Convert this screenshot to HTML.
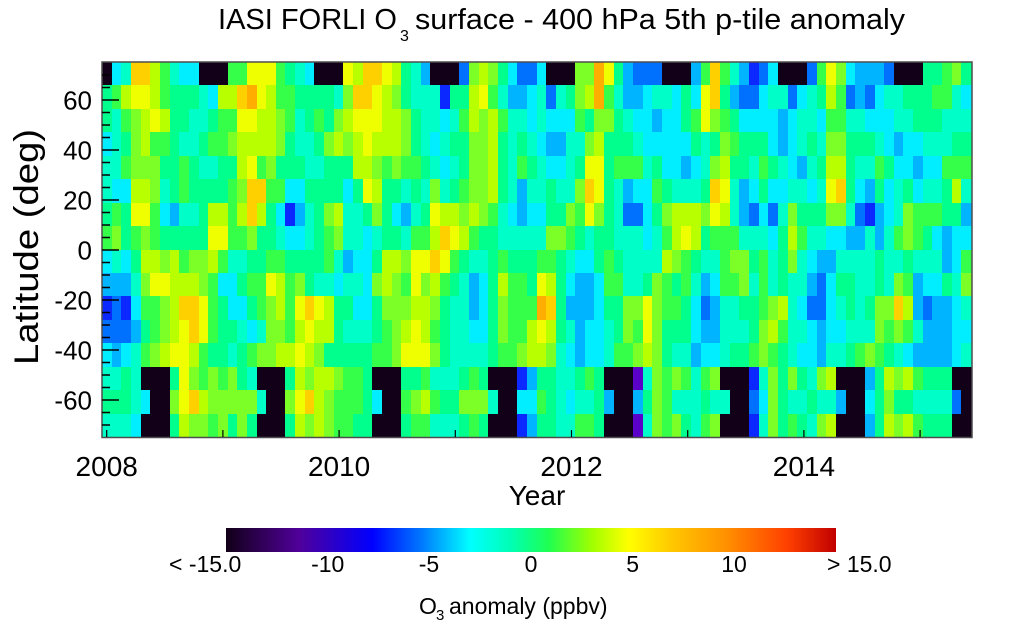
<!DOCTYPE html>
<html><head><meta charset="utf-8"><style>
html,body{margin:0;padding:0;background:#fff;}
body{width:1024px;height:626px;position:relative;overflow:hidden;font-family:"Liberation Sans",sans-serif;}
table{position:absolute;left:102px;top:62px;width:870px;height:375px;border-collapse:collapse;table-layout:fixed;border-spacing:0;}
td{padding:0;border:0;}
tr{height:23.4375px;}
.K{background:#120018}.P{background:#5a00c8}.D{background:#0a28ff}.b{background:#0070ff}
.B{background:#00b4ff}.c{background:#00eeff}.t{background:#00ffc8}.s{background:#00ff8c}
.g{background:#36ff4a}.G{background:#7cff26}.l{background:#b8ff00}.y{background:#f0ff00}
.Y{background:#ffd000}.o{background:#ffae00}
#cb{position:absolute;left:226px;top:528px;width:610px;height:24px;background:linear-gradient(to right,#120018 0%,#50009a 12%,#0000ff 24%,#0078ff 32%,#00ffff 40%,#00ffb0 47%,#20ff50 53%,#a0ff00 60%,#ffff00 66%,#ffc800 73%,#ff9000 82%,#ff4000 92%,#c00000 100%);}
svg{position:absolute;left:0;top:0;}
</style></head><body>
<table>
<tr><td class=K><td class=c><td class=t><td class=Y><td class=Y><td class=l><td class=g><td class=t><td class=c><td class=c><td class=K><td class=K><td class=K><td class=g><td class=g><td class=y><td class=y><td class=y><td class=g><td class=s><td class=t><td class=c><td class=K><td class=K><td class=K><td class=y><td class=l><td class=Y><td class=Y><td class=y><td class=l><td class=s><td class=t><td class=B><td class=K><td class=K><td class=K><td class=b><td class=G><td class=l><td class=G><td class=s><td class=c><td class=b><td class=b><td class=c><td class=K><td class=K><td class=K><td class=G><td class=G><td class=o><td class=y><td class=s><td class=B><td class=b><td class=b><td class=b><td class=K><td class=K><td class=K><td class=B><td class=g><td class=Y><td class=g><td class=t><td class=B><td class=D><td class=b><td class=c><td class=K><td class=K><td class=K><td class=b><td class=g><td class=y><td class=G><td class=c><td class=B><td class=B><td class=B><td class=b><td class=K><td class=K><td class=K><td class=s><td class=s><td class=g><td class=G><td class=s>
<tr><td class=s><td class=g><td class=l><td class=y><td class=y><td class=l><td class=g><td class=s><td class=s><td class=s><td class=t><td class=c><td class=l><td class=l><td class=Y><td class=o><td class=y><td class=l><td class=g><td class=g><td class=s><td class=s><td class=s><td class=s><td class=t><td class=G><td class=Y><td class=Y><td class=y><td class=l><td class=G><td class=s><td class=t><td class=t><td class=t><td class=D><td class=s><td class=s><td class=l><td class=y><td class=g><td class=t><td class=B><td class=B><td class=c><td class=t><td class=b><td class=t><td class=s><td class=G><td class=l><td class=o><td class=g><td class=t><td class=B><td class=B><td class=c><td class=t><td class=t><td class=c><td class=s><td class=c><td class=y><td class=Y><td class=s><td class=B><td class=b><td class=b><td class=c><td class=t><td class=t><td class=b><td class=c><td class=t><td class=s><td class=l><td class=g><td class=b><td class=B><td class=b><td class=c><td class=t><td class=t><td class=s><td class=s><td class=s><td class=g><td class=g><td class=t><td class=c>
<tr><td class=s><td class=t><td class=g><td class=G><td class=l><td class=y><td class=l><td class=s><td class=s><td class=t><td class=t><td class=s><td class=g><td class=g><td class=y><td class=y><td class=l><td class=l><td class=G><td class=g><td class=t><td class=s><td class=g><td class=s><td class=G><td class=l><td class=y><td class=y><td class=y><td class=l><td class=l><td class=G><td class=s><td class=t><td class=t><td class=c><td class=t><td class=g><td class=l><td class=G><td class=l><td class=g><td class=t><td class=t><td class=c><td class=t><td class=c><td class=c><td class=c><td class=g><td class=s><td class=G><td class=G><td class=s><td class=t><td class=c><td class=c><td class=B><td class=c><td class=c><td class=s><td class=g><td class=y><td class=G><td class=g><td class=s><td class=c><td class=c><td class=c><td class=c><td class=B><td class=c><td class=t><td class=t><td class=c><td class=g><td class=g><td class=t><td class=t><td class=c><td class=c><td class=c><td class=t><td class=t><td class=s><td class=s><td class=s><td class=t><td class=t><td class=t>
<tr><td class=c><td class=t><td class=s><td class=G><td class=l><td class=g><td class=g><td class=s><td class=t><td class=t><td class=s><td class=g><td class=g><td class=G><td class=l><td class=l><td class=l><td class=l><td class=G><td class=s><td class=t><td class=t><td class=s><td class=G><td class=l><td class=G><td class=l><td class=y><td class=l><td class=l><td class=l><td class=G><td class=s><td class=t><td class=c><td class=t><td class=s><td class=s><td class=G><td class=G><td class=l><td class=s><td class=t><td class=s><td class=t><td class=c><td class=B><td class=B><td class=t><td class=t><td class=G><td class=l><td class=s><td class=s><td class=s><td class=t><td class=c><td class=c><td class=c><td class=c><td class=c><td class=s><td class=t><td class=s><td class=G><td class=g><td class=s><td class=s><td class=s><td class=c><td class=B><td class=c><td class=t><td class=s><td class=t><td class=G><td class=G><td class=s><td class=s><td class=s><td class=t><td class=c><td class=B><td class=c><td class=c><td class=t><td class=t><td class=t><td class=s><td class=s>
<tr><td class=t><td class=t><td class=g><td class=G><td class=G><td class=G><td class=s><td class=s><td class=g><td class=s><td class=t><td class=t><td class=s><td class=s><td class=l><td class=y><td class=g><td class=G><td class=s><td class=s><td class=s><td class=t><td class=t><td class=s><td class=s><td class=s><td class=l><td class=l><td class=G><td class=g><td class=G><td class=g><td class=g><td class=s><td class=t><td class=c><td class=t><td class=s><td class=G><td class=G><td class=l><td class=s><td class=t><td class=g><td class=s><td class=t><td class=c><td class=c><td class=t><td class=s><td class=y><td class=y><td class=s><td class=g><td class=g><td class=g><td class=t><td class=s><td class=c><td class=c><td class=B><td class=c><td class=t><td class=G><td class=l><td class=s><td class=s><td class=t><td class=g><td class=s><td class=t><td class=c><td class=B><td class=t><td class=s><td class=l><td class=l><td class=s><td class=t><td class=t><td class=g><td class=s><td class=c><td class=c><td class=B><td class=c><td class=c><td class=g><td class=g><td class=g>
<tr><td class=t><td class=c><td class=c><td class=l><td class=l><td class=G><td class=t><td class=s><td class=g><td class=s><td class=s><td class=s><td class=s><td class=g><td class=G><td class=Y><td class=Y><td class=g><td class=g><td class=c><td class=c><td class=s><td class=s><td class=s><td class=s><td class=c><td class=s><td class=y><td class=l><td class=s><td class=s><td class=t><td class=s><td class=t><td class=G><td class=t><td class=s><td class=g><td class=G><td class=G><td class=l><td class=s><td class=t><td class=B><td class=t><td class=t><td class=s><td class=t><td class=t><td class=G><td class=Y><td class=y><td class=s><td class=t><td class=B><td class=c><td class=c><td class=g><td class=s><td class=t><td class=t><td class=t><td class=s><td class=Y><td class=y><td class=t><td class=B><td class=c><td class=s><td class=c><td class=c><td class=t><td class=t><td class=c><td class=t><td class=y><td class=Y><td class=s><td class=c><td class=B><td class=s><td class=c><td class=t><td class=s><td class=c><td class=t><td class=t><td class=s><td class=l><td class=t>
<tr><td class=s><td class=g><td class=s><td class=y><td class=y><td class=g><td class=c><td class=B><td class=t><td class=t><td class=s><td class=l><td class=l><td class=g><td class=l><td class=Y><td class=l><td class=s><td class=c><td class=D><td class=B><td class=t><td class=s><td class=G><td class=l><td class=t><td class=t><td class=s><td class=G><td class=s><td class=c><td class=B><td class=t><td class=s><td class=y><td class=l><td class=l><td class=G><td class=l><td class=G><td class=g><td class=t><td class=c><td class=B><td class=c><td class=c><td class=s><td class=s><td class=G><td class=g><td class=y><td class=G><td class=s><td class=t><td class=b><td class=b><td class=c><td class=s><td class=G><td class=l><td class=l><td class=l><td class=G><td class=y><td class=l><td class=t><td class=B><td class=b><td class=c><td class=b><td class=t><td class=G><td class=s><td class=s><td class=s><td class=G><td class=G><td class=t><td class=b><td class=D><td class=B><td class=c><td class=t><td class=G><td class=g><td class=g><td class=g><td class=s><td class=s><td class=B>
<tr><td class=g><td class=G><td class=s><td class=g><td class=G><td class=g><td class=s><td class=s><td class=s><td class=s><td class=s><td class=y><td class=y><td class=g><td class=g><td class=G><td class=s><td class=s><td class=t><td class=c><td class=c><td class=t><td class=s><td class=g><td class=G><td class=t><td class=t><td class=c><td class=t><td class=s><td class=s><td class=t><td class=g><td class=g><td class=l><td class=Y><td class=y><td class=l><td class=g><td class=s><td class=s><td class=t><td class=t><td class=t><td class=t><td class=t><td class=G><td class=G><td class=g><td class=s><td class=t><td class=s><td class=s><td class=t><td class=t><td class=t><td class=c><td class=t><td class=g><td class=l><td class=y><td class=l><td class=s><td class=g><td class=g><td class=g><td class=t><td class=t><td class=t><td class=c><td class=s><td class=l><td class=g><td class=t><td class=t><td class=c><td class=c><td class=B><td class=B><td class=t><td class=B><td class=t><td class=g><td class=G><td class=g><td class=s><td class=c><td class=B><td class=c><td class=c>
<tr><td class=c><td class=t><td class=c><td class=s><td class=l><td class=l><td class=G><td class=l><td class=g><td class=G><td class=G><td class=l><td class=g><td class=t><td class=t><td class=s><td class=s><td class=g><td class=g><td class=s><td class=s><td class=s><td class=s><td class=g><td class=t><td class=B><td class=c><td class=c><td class=s><td class=l><td class=l><td class=G><td class=y><td class=y><td class=Y><td class=y><td class=g><td class=s><td class=t><td class=t><td class=s><td class=g><td class=s><td class=s><td class=s><td class=g><td class=g><td class=s><td class=t><td class=c><td class=c><td class=s><td class=g><td class=s><td class=t><td class=t><td class=t><td class=t><td class=l><td class=G><td class=g><td class=s><td class=t><td class=t><td class=g><td class=G><td class=G><td class=s><td class=g><td class=t><td class=s><td class=G><td class=t><td class=c><td class=B><td class=B><td class=t><td class=t><td class=t><td class=t><td class=s><td class=t><td class=t><td class=s><td class=t><td class=t><td class=t><td class=B><td class=c><td class=g>
<tr><td class=B><td class=B><td class=B><td class=t><td class=G><td class=y><td class=y><td class=l><td class=l><td class=l><td class=G><td class=g><td class=c><td class=c><td class=s><td class=g><td class=g><td class=y><td class=l><td class=g><td class=G><td class=s><td class=t><td class=t><td class=c><td class=t><td class=t><td class=c><td class=G><td class=l><td class=G><td class=g><td class=y><td class=G><td class=l><td class=g><td class=s><td class=t><td class=B><td class=c><td class=s><td class=l><td class=g><td class=g><td class=s><td class=y><td class=l><td class=s><td class=c><td class=B><td class=B><td class=c><td class=g><td class=g><td class=t><td class=t><td class=s><td class=G><td class=g><td class=s><td class=g><td class=t><td class=B><td class=c><td class=g><td class=g><td class=G><td class=t><td class=g><td class=t><td class=s><td class=t><td class=t><td class=B><td class=b><td class=c><td class=s><td class=s><td class=t><td class=t><td class=s><td class=t><td class=G><td class=g><td class=B><td class=c><td class=c><td class=s><td class=t><td class=G>
<tr><td class=D><td class=b><td class=D><td class=c><td class=g><td class=g><td class=G><td class=l><td class=Y><td class=Y><td class=y><td class=g><td class=s><td class=c><td class=c><td class=s><td class=g><td class=G><td class=l><td class=g><td class=y><td class=Y><td class=y><td class=l><td class=s><td class=s><td class=c><td class=c><td class=s><td class=G><td class=G><td class=G><td class=l><td class=l><td class=G><td class=s><td class=t><td class=t><td class=B><td class=c><td class=s><td class=G><td class=g><td class=g><td class=g><td class=o><td class=Y><td class=s><td class=B><td class=B><td class=B><td class=c><td class=s><td class=s><td class=G><td class=G><td class=y><td class=G><td class=g><td class=g><td class=s><td class=c><td class=b><td class=B><td class=t><td class=t><td class=s><td class=s><td class=g><td class=G><td class=l><td class=t><td class=c><td class=b><td class=b><td class=c><td class=t><td class=s><td class=t><td class=s><td class=G><td class=G><td class=Y><td class=l><td class=B><td class=b><td class=B><td class=B><td class=c><td class=t>
<tr><td class=b><td class=b><td class=b><td class=B><td class=s><td class=g><td class=G><td class=l><td class=y><td class=Y><td class=y><td class=g><td class=s><td class=s><td class=t><td class=c><td class=t><td class=G><td class=G><td class=g><td class=l><td class=y><td class=l><td class=l><td class=s><td class=t><td class=t><td class=t><td class=s><td class=g><td class=G><td class=l><td class=y><td class=l><td class=g><td class=s><td class=t><td class=t><td class=c><td class=c><td class=s><td class=G><td class=g><td class=g><td class=l><td class=y><td class=l><td class=s><td class=t><td class=B><td class=c><td class=c><td class=t><td class=s><td class=G><td class=g><td class=y><td class=G><td class=s><td class=s><td class=s><td class=c><td class=B><td class=B><td class=t><td class=t><td class=t><td class=s><td class=G><td class=l><td class=g><td class=t><td class=t><td class=c><td class=B><td class=c><td class=c><td class=t><td class=t><td class=t><td class=G><td class=g><td class=G><td class=g><td class=t><td class=B><td class=B><td class=B><td class=c><td class=c>
<tr><td class=c><td class=B><td class=c><td class=t><td class=g><td class=G><td class=l><td class=y><td class=y><td class=l><td class=g><td class=s><td class=s><td class=t><td class=s><td class=g><td class=G><td class=G><td class=l><td class=l><td class=y><td class=l><td class=G><td class=s><td class=s><td class=s><td class=s><td class=s><td class=g><td class=g><td class=G><td class=y><td class=y><td class=y><td class=G><td class=s><td class=t><td class=t><td class=t><td class=t><td class=s><td class=g><td class=g><td class=G><td class=l><td class=l><td class=G><td class=t><td class=c><td class=B><td class=c><td class=c><td class=t><td class=g><td class=g><td class=G><td class=l><td class=G><td class=s><td class=t><td class=t><td class=B><td class=c><td class=c><td class=t><td class=s><td class=s><td class=g><td class=G><td class=g><td class=s><td class=t><td class=c><td class=c><td class=B><td class=t><td class=t><td class=s><td class=g><td class=G><td class=g><td class=s><td class=t><td class=c><td class=B><td class=B><td class=B><td class=B><td class=c><td class=t>
<tr><td class=t><td class=t><td class=s><td class=t><td class=K><td class=K><td class=K><td class=s><td class=y><td class=G><td class=g><td class=G><td class=g><td class=G><td class=s><td class=t><td class=K><td class=K><td class=K><td class=s><td class=l><td class=G><td class=l><td class=l><td class=G><td class=g><td class=g><td class=s><td class=K><td class=K><td class=K><td class=s><td class=s><td class=g><td class=t><td class=t><td class=t><td class=s><td class=g><td class=s><td class=K><td class=K><td class=K><td class=D><td class=B><td class=s><td class=s><td class=t><td class=t><td class=s><td class=g><td class=s><td class=K><td class=K><td class=K><td class=P><td class=t><td class=G><td class=g><td class=G><td class=g><td class=t><td class=g><td class=G><td class=K><td class=K><td class=K><td class=D><td class=t><td class=G><td class=s><td class=G><td class=s><td class=t><td class=G><td class=l><td class=K><td class=K><td class=K><td class=B><td class=s><td class=l><td class=G><td class=l><td class=g><td class=s><td class=s><td class=s><td class=K><td class=K>
<tr><td class=s><td class=s><td class=s><td class=t><td class=c><td class=K><td class=K><td class=G><td class=y><td class=Y><td class=l><td class=G><td class=G><td class=G><td class=G><td class=G><td class=t><td class=K><td class=K><td class=G><td class=y><td class=Y><td class=l><td class=G><td class=g><td class=g><td class=g><td class=s><td class=c><td class=K><td class=K><td class=g><td class=G><td class=l><td class=g><td class=s><td class=s><td class=G><td class=G><td class=G><td class=t><td class=K><td class=K><td class=c><td class=c><td class=g><td class=s><td class=t><td class=c><td class=t><td class=t><td class=s><td class=B><td class=K><td class=K><td class=B><td class=s><td class=G><td class=g><td class=t><td class=t><td class=t><td class=s><td class=t><td class=t><td class=K><td class=K><td class=b><td class=c><td class=G><td class=s><td class=t><td class=t><td class=s><td class=t><td class=t><td class=B><td class=K><td class=K><td class=c><td class=s><td class=G><td class=s><td class=s><td class=t><td class=t><td class=t><td class=t><td class=b><td class=K>
<tr><td class=t><td class=t><td class=t><td class=c><td class=K><td class=K><td class=K><td class=s><td class=l><td class=G><td class=G><td class=g><td class=G><td class=s><td class=G><td class=s><td class=K><td class=K><td class=K><td class=s><td class=l><td class=G><td class=l><td class=G><td class=g><td class=g><td class=s><td class=s><td class=K><td class=K><td class=K><td class=s><td class=g><td class=g><td class=t><td class=t><td class=t><td class=s><td class=g><td class=s><td class=K><td class=K><td class=K><td class=D><td class=B><td class=s><td class=s><td class=t><td class=t><td class=g><td class=g><td class=s><td class=K><td class=K><td class=K><td class=P><td class=t><td class=G><td class=g><td class=G><td class=s><td class=t><td class=g><td class=G><td class=K><td class=K><td class=K><td class=D><td class=t><td class=G><td class=s><td class=g><td class=s><td class=t><td class=G><td class=l><td class=K><td class=K><td class=K><td class=B><td class=s><td class=l><td class=G><td class=l><td class=g><td class=s><td class=s><td class=s><td class=K><td class=K>
</table>
<div id="cb"></div>
<svg width="1024" height="626" font-family="Liberation Sans, sans-serif" fill="#000">
<rect x="102" y="62" width="870" height="375.5" fill="none" stroke="#4d4d4d" stroke-width="1.5"/>
<path stroke="#000" stroke-width="1.5" fill="none" d="M102 75h8M102 87.5h8M102 100h17M102 112.5h8M102 125h8M102 137.5h8M102 150h17M102 162.5h8M102 175h8M102 187.5h8M102 200h17M102 212.5h8M102 225h8M102 237.5h8M102 250h17M102 262.5h8M102 275h8M102 287.5h8M102 300h17M102 312.5h8M102 325h8M102 337.5h8M102 350h17M102 362.5h8M102 375h8M102 387.5h8M102 400h17M102 412.5h8M102 425h8"/>
<path stroke="#000" stroke-width="1.2" fill="none" d="M106.7 437v-7M222.9 437v-7M339.1 437v-7M455.3 437v-7M571.5 437v-7M687.7 437v-7M803.9 437v-7M920.1 437v-7"/>
<text x="218" y="29" font-size="29" textLength="179" lengthAdjust="spacingAndGlyphs">IASI FORLI O</text>
<text x="400" y="41" font-size="16">3</text>
<text x="415" y="29" font-size="29" textLength="490" lengthAdjust="spacingAndGlyphs">surface - 400 hPa 5th p-tile anomaly</text>
<g font-size="26" text-anchor="end">
<text x="92" y="109.5">60</text>
<text x="92" y="159.5">40</text>
<text x="92" y="209.5">20</text>
<text x="92" y="259.5">0</text>
<text x="92" y="309.5">-20</text>
<text x="92" y="359.5">-40</text>
<text x="92" y="409.5">-60</text>
</g>
<text transform="translate(38,365) rotate(-90)" font-size="34" textLength="236" lengthAdjust="spacingAndGlyphs">Latitude (deg)</text>
<g font-size="28" text-anchor="middle">
<text x="106.7" y="476">2008</text>
<text x="339.1" y="476">2010</text>
<text x="571.5" y="476">2012</text>
<text x="803.9" y="476">2014</text>
<text x="537" y="505">Year</text>
</g>
<g font-size="23">
<text x="169" y="572">&lt; -15.0</text>
<text x="327.7" y="572" text-anchor="middle">-10</text>
<text x="429" y="572" text-anchor="middle">-5</text>
<text x="531" y="572" text-anchor="middle">0</text>
<text x="632.7" y="572" text-anchor="middle">5</text>
<text x="734" y="572" text-anchor="middle">10</text>
<text x="827" y="572">&gt; 15.0</text>
<text x="419" y="614">O</text>
<text x="449" y="614">anomaly (ppbv)</text>
</g>
<text x="436" y="620" font-size="15">3</text>
</svg>
</body></html>
